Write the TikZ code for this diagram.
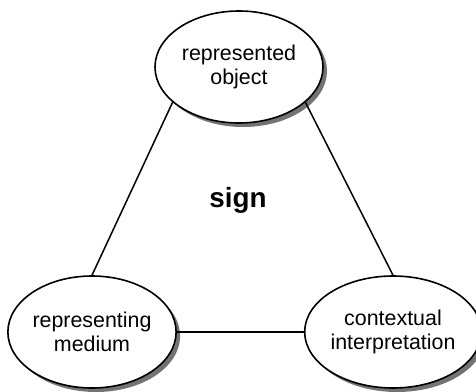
\documentclass[tikz,border=0pt]{standalone}
\usepackage{fontspec}
\setmainfont{Liberation Sans}
\usetikzlibrary{shapes.geometric,shadows}
\begin{document}
\begin{tikzpicture}[x=0.5pt, y=0.5pt,
        corner/.style = {ellipse, draw, line width=0.8pt, fill=white,
            minimum width=84pt, minimum height=56pt, inner sep=0pt,
            align=center, font=\fontsize{10.7}{12}\selectfont,
            drop shadow={shadow xshift=2pt, shadow yshift=-2pt,
                fill=black!55, opacity=1}},
        side/.style = {line width=0.75pt}]
    \useasboundingbox (0, 0) rectangle (476, 391);

    \node[corner] (object) at (239, 324) {represented\\object};
    \node[corner] (medium) at (92, 59) {representing\\medium};
    \node[corner] (interp) at (393, 59) {contextual\\interpretation};

    \node (sign) at (238, 191) {\fontsize{13.9}{16}\selectfont\bfseries sign};

    \draw[side] (object.208) -- (medium.north);
    \draw[side] (object.332) -- (interp.north);
    \draw[side] (medium.east) -- (interp.west);
\end{tikzpicture}
\end{document}
